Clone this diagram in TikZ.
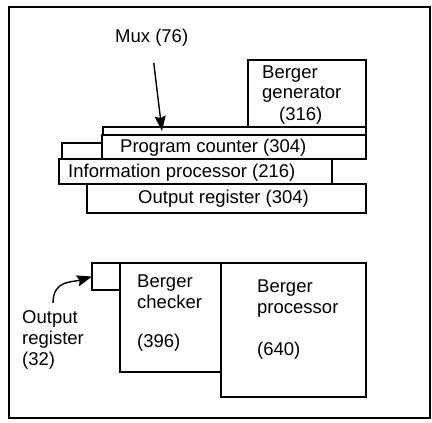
\documentclass[tikz,border=0pt]{standalone}
\usepackage{fontspec}
\setmainfont{Liberation Sans}
\usetikzlibrary{arrows.meta}

\begin{document}
\begin{tikzpicture}[x=1pt,y=-1pt,
		blk/.style={draw, line width=1.4pt, inner sep=0pt, outer sep=0pt, anchor=north west},
		lbl/.style={inner sep=0pt, anchor=base west, align=left, font=\fontsize{18.5}{21}\selectfont},
		arr/.style={line width=1.4pt, -{Stealth[length=15pt,width=11pt,inset=2pt]}}]
	\useasboundingbox (0,0) rectangle (432,423);
	\draw[line width=1.4pt] (9,7) rectangle (430,418);

	% upper stack
	\node[blk, minimum width=118pt, minimum height=67pt] (gen) at (248,60) {};
	\node[blk, minimum width=263pt, minimum height=8pt] (mux) at (103,127) {};
	\node[blk, minimum width=264pt, minimum height=24pt] (pc) at (102,135) {};
	\node[blk, minimum width=40pt, minimum height=16pt] (pcext) at (62,143) {};
	\node[blk, minimum width=273pt, minimum height=25pt] (info) at (59,159) {};
	\node[blk, minimum width=279pt, minimum height=29pt] (outtop) at (87,184) {};

	% multi-line labels sit on the baseline of their last line
	\node[lbl] (genlbl) at (262,120) {Berger\\generator\\\hspace*{17pt}(316)};
	\node[lbl] (pclbl) at (120,152) {Program counter (304)};
	\node[lbl] (infolbl) at (68,177) {Information processor (216)};
	\node[lbl] (outtoplbl) at (138,203) {Output register (304)};

	\node[lbl] (muxlbl) at (115,42) {Mux (76)};
	\coordinate (muxtip) at (162,131);
	\draw[arr, shorten <=17pt] (muxlbl.south) -- (muxtip);

	% lower row
	\node[blk, minimum width=28pt, minimum height=27pt] (outreg) at (92,263) {};
	\node[blk, minimum width=101pt, minimum height=109pt] (chk) at (120,263) {};
	\node[blk, minimum width=145pt, minimum height=134pt] (proc) at (221,263) {};

	\node[lbl] (chklbl) at (137,347) {Berger\\checker\\[18pt](396)};
	\node[lbl] (proclbl) at (257,355) {Berger\\processor\\[21pt](640)};
	\node[lbl] (outreglbl) at (22,365) {Output\\register\\(32)};

	\draw[arr, shorten <=7pt] (outreglbl.north) .. controls +(0,-30) and +(-20,6) .. (outreg.west);
\end{tikzpicture}
\end{document}
